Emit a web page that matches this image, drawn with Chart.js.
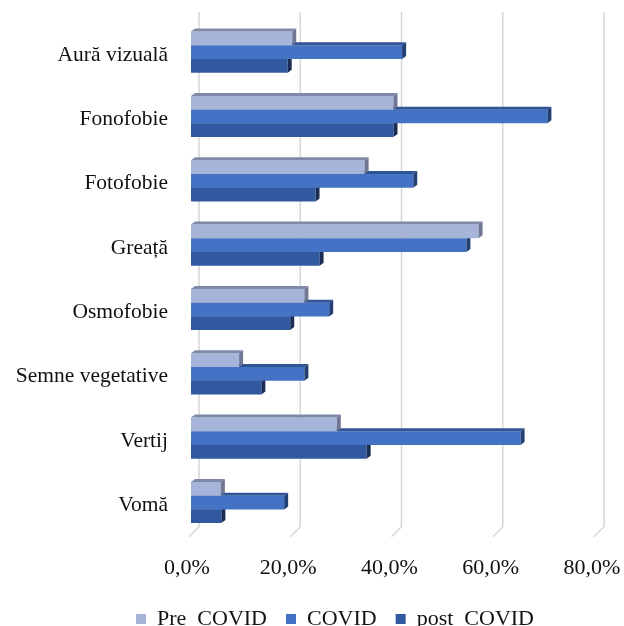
<!DOCTYPE html>
<html>
<head>
<meta charset="utf-8">
<script src="https://cdn.jsdelivr.net/npm/chart.js@4.4.1/dist/chart.umd.min.js"></script>
<style>
  html, body { margin: 0; padding: 0; background: #ffffff; }
  #wrap { width: 624px; height: 626px; position: relative; }
</style>
</head>
<body>
<div id="wrap"><canvas id="chart"></canvas></div>
<script>
// Symptom categories (top to bottom)
const categories = ['Aură vizuală', 'Fonofobie', 'Fotofobie', 'Greață', 'Osmofobie', 'Semne vegetative', 'Vertij', 'Vomă'];

// Share of patients per period, in percent
const preCovid  = [20.0, 40.0, 34.3, 56.8, 22.4,  9.5, 28.8,  5.9];
const covid     = [41.7, 70.4, 43.9, 54.4, 27.3, 22.4, 65.1, 18.4];
const postCovid = [19.1, 40.0, 24.6, 25.4, 19.6, 13.9, 34.7,  6.0];

const seriesNames = ['Pre  COVID', 'COVID', 'post  COVID'];

// Value axis ticks
const tickValues = [0, 20, 40, 60, 80];
const tickLabels = ['0,0%', '20,0%', '40,0%', '60,0%', '80,0%'];

// Colours: front face, top face, side face
const frontColors = ['#a6b4da', '#4472c4', '#30599f'];
const topColors   = ['#8089a8', '#2f5597', '#203c6e'];
const sideColors  = ['#6f7794', '#234073', '#192d55'];

const FONT = "'Liberation Serif', 'Times New Roman', serif";
const DEPTH_X = 4, DEPTH_Y = 3;      // bar extrusion
const WALL = 8;                       // offset of the back wall
const INK = '#111111';

// Back-wall gridlines with the receding floor edge
const wallGrid = {
  id: 'wallGrid',
  beforeDatasetsDraw(chart) {
    const { ctx, chartArea } = chart;
    const xs = chart.scales.x;
    ctx.save();
    ctx.strokeStyle = '#d6d6d6';
    ctx.lineWidth = 1.5;
    xs.ticks.forEach(t => {
      const px = xs.getPixelForValue(t.value);
      ctx.beginPath();
      ctx.moveTo(px + WALL, chartArea.top - WALL);
      ctx.lineTo(px + WALL, chartArea.bottom - WALL);
      ctx.lineTo(px - 2, chartArea.bottom + 2);
      ctx.stroke();
    });
    ctx.restore();
  }
};

// Top and side faces of each bar, drawn right after its dataset
const barFaces = {
  id: 'barFaces',
  afterDatasetDraw(chart, args) {
    const { ctx } = chart;
    const i = args.index;
    ctx.save();
    args.meta.data.forEach(el => {
      const p = el.getProps(['x', 'y', 'base', 'height'], true);
      const x0 = Math.min(p.base, p.x), x1 = Math.max(p.base, p.x);
      const yT = p.y - p.height / 2, yB = p.y + p.height / 2;
      ctx.fillStyle = topColors[i];
      ctx.beginPath();
      ctx.moveTo(x0, yT);
      ctx.lineTo(x1, yT);
      ctx.lineTo(x1 + DEPTH_X, yT - DEPTH_Y);
      ctx.lineTo(x0 + DEPTH_X, yT - DEPTH_Y);
      ctx.closePath();
      ctx.fill();
      ctx.fillStyle = sideColors[i];
      ctx.beginPath();
      ctx.moveTo(x1, yT);
      ctx.lineTo(x1 + DEPTH_X, yT - DEPTH_Y);
      ctx.lineTo(x1 + DEPTH_X, yB - DEPTH_Y);
      ctx.lineTo(x1, yB);
      ctx.closePath();
      ctx.fill();
    });
    ctx.restore();
  }
};

// Legend placement under the axis labels; let the value labels use the full strip below the plot
const legendPlace = {
  id: 'legendPlace',
  afterLayout(chart) {
    const xs = chart.scales.x;
    xs.bottom = chart.height;
    xs.height = xs.bottom - xs.top;
    const l = chart.legend;
    if (!l) return;
    l.left += 37; l.right += 37;
    l.top += 14; l.bottom += 14;
  }
};

const seriesData = [preCovid, covid, postCovid];

new Chart(document.getElementById('chart'), {
  type: 'bar',
  data: {
    labels: categories,
    datasets: seriesData.map((d, i) => ({
      label: seriesNames[i],
      data: d,
      backgroundColor: frontColors[i],
      borderWidth: 0,
      categoryPercentage: 0.64,
      barPercentage: 1.0
    }))
  },
  options: {
    indexAxis: 'y',
    responsive: true,
    maintainAspectRatio: false,
    animation: false,
    layout: { padding: { top: 20, right: 28, bottom: 0, left: 0 } },
    scales: {
      x: {
        min: 0,
        max: 80,
        grid: { display: false, drawTicks: false },
        border: { display: false },
        afterBuildTicks(scale) { scale.ticks = tickValues.map(v => ({ value: v })); },
        afterFit(scale) { scale.height = 40.3; scale.paddingLeft = 0; scale.paddingRight = 0; },
        ticks: {
          callback: (v, idx) => tickLabels[idx],
          padding: 20,
          labelOffset: -4,
          maxRotation: 0,
          autoSkip: false,
          color: INK,
          font: { family: FONT, size: 22 }
        }
      },
      y: {
        grid: { display: false, drawTicks: false },
        border: { display: false },
        afterFit(scale) { scale.width = 191; scale.paddingTop = 0; scale.paddingBottom = 0; },
        ticks: {
          padding: 23,
          labelOffset: 3,
          color: INK,
          font: { family: FONT, size: 21.5 }
        }
      }
    },
    plugins: {
      legend: {
        position: 'bottom',
        labels: {
          boxWidth: 10,
          boxHeight: 10,
          padding: 19,
          color: INK,
          font: { family: FONT, size: 22 }
        }
      },
      tooltip: { enabled: false }
    }
  },
  plugins: [wallGrid, barFaces, legendPlace]
});
</script>
</body>
</html>
